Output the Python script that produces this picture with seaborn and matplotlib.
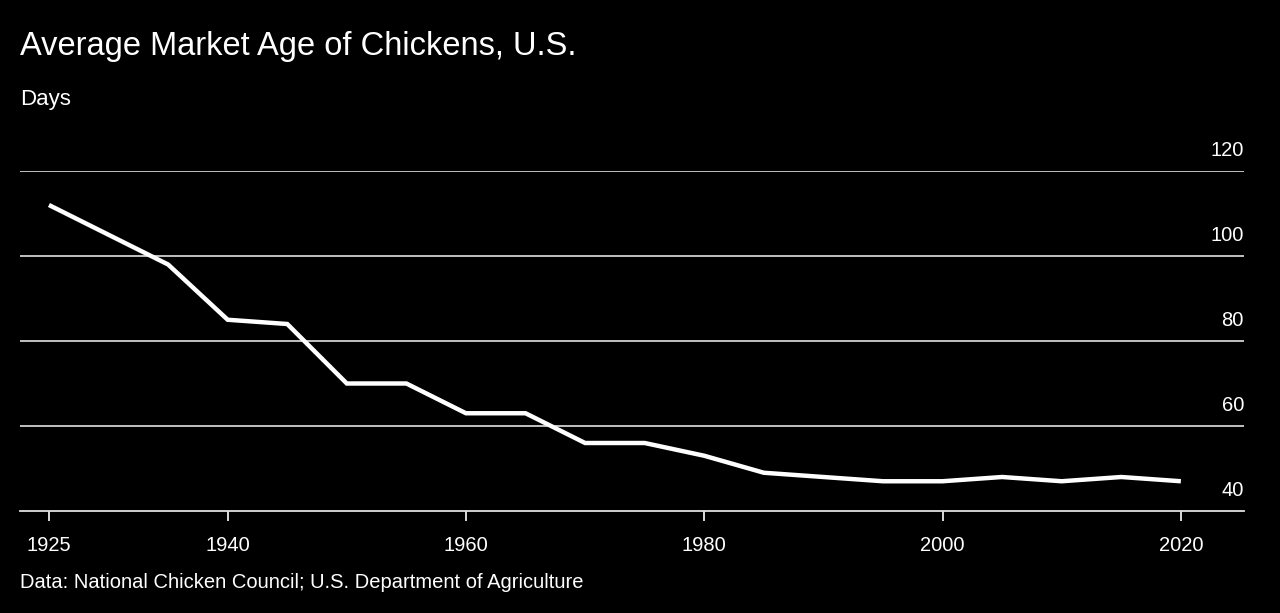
import matplotlib
matplotlib.use("Agg")
import matplotlib.pyplot as plt
import seaborn as sns
import pandas as pd

years = [1925, 1935, 1940, 1945, 1950, 1955, 1960, 1965, 1970, 1975, 1980,
         1985, 1990, 1995, 2000, 2005, 2010, 2015, 2020]
days = [112, 98, 85, 84, 70, 70, 63, 63, 56, 56, 53,
        49, 48, 47, 47, 48, 47, 48, 47]
x_ticks = [1925, 1940, 1960, 1980, 2000, 2020]
y_ticks = [40, 60, 80, 100, 120]

title = "Average Market Age of Chickens, U.S."
subtitle = "Days"
source = "Data: National Chicken Council; U.S. Department of Agriculture"

df = pd.DataFrame({"year": years, "days": days})

sns.set_theme(style="dark")
plt.rcParams["font.family"] = ["Liberation Sans", "DejaVu Sans"]

fig = plt.figure(figsize=(12.8, 6.13), dpi=100, facecolor="black")
ax = fig.add_axes([20/1280, 1 - 511/613, (1244-20)/1280, (511-171)/613])
ax.set_facecolor("black")

sns.lineplot(data=df, x="year", y="days", ax=ax, color="white", linewidth=3.2,
             solid_joinstyle="miter", solid_capstyle="butt")

ax.set_xlim(1922.57, 2025.3)
ax.set_ylim(40, 120)

for v in y_ticks[1:]:
    ax.axhline(v, color="#d0d0d0", linewidth=1.3, zorder=0)

for v in y_ticks:
    ax.annotate(str(v), xy=(1, v), xycoords=("axes fraction", "data"),
                xytext=(0, 8), textcoords="offset points", ha="right",
                va="bottom", color="white", fontsize=14.5)

for s in ["top", "right", "left"]:
    ax.spines[s].set_visible(False)
ax.spines["bottom"].set_color("#e0e0e0")
ax.spines["bottom"].set_linewidth(1.3)

ax.set_yticks([])
ax.set_xticks(x_ticks)
ax.set_xticklabels([str(t) for t in x_ticks])
ax.tick_params(axis="x", colors="white", labelcolor="white", labelsize=14.5,
               length=7, width=1.2, direction="out", pad=11, bottom=True)
ax.set_xlabel("")
ax.set_ylabel("")
ax.grid(False)

fig.text(20/1280, 1 - 47/613, title, color="white", fontsize=23.5, va="center", ha="left")
fig.text(20/1280, 1 - 99/613, subtitle, color="white", fontsize=16, va="center", ha="left")
fig.text(20/1280, 1 - 582/613, source, color="white", fontsize=14.5, va="center", ha="left")

fig.savefig("out.png", dpi=100, facecolor="black")
